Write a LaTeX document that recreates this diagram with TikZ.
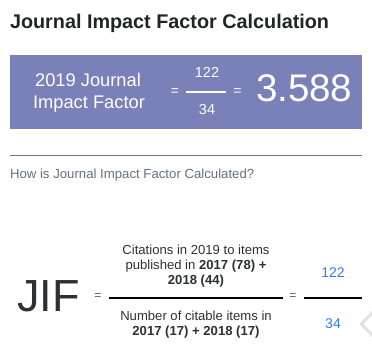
\documentclass[tikz,border=0pt]{standalone}
\usepackage{fontspec}
\setmainfont{Liberation Sans}
\definecolor{titlecol}{HTML}{222428}
\definecolor{boxcol}{HTML}{7A80B8}
\definecolor{rulecol}{HTML}{6C757D}
\definecolor{qcol}{HTML}{66707F}
\definecolor{darkcol}{HTML}{2E3033}
\definecolor{bluecol}{HTML}{2F7DE8}
\definecolor{chevcol}{HTML}{E2E2E4}
\newcommand{\fsz}[1]{\fontsize{#1}{#1}\selectfont}
\begin{document}
\begin{tikzpicture}[x=1pt,y=-1pt,
  every node/.style={inner sep=0pt, outer sep=0pt},
  boxtxt/.style={text=white, font=\fsz{18.3}, anchor=base},
  boxnum/.style={text=white, font=\fsz{14.5}, anchor=base},
  eqtxt/.style={text=darkcol, font=\fsz{13.1}, anchor=base},
  bluenum/.style={text=bluecol, font=\fsz{14}, anchor=base}]
\useasboundingbox (0,0) rectangle (372,363);
% title
\node[anchor=base west, font=\bfseries\fsz{19.8}, text=titlecol] (title) at (10,29) {Journal Impact Factor Calculation};
% purple box
\node[fill=boxcol, minimum width=352pt, minimum height=74pt, anchor=north west] (box) at (10,55) {};
\node[boxtxt] (l1) at (88,87) {2019 Journal};
\node[boxtxt] (l2) at (89,109) {Impact Factor};
\node[text=white, font=\fsz{14}] (eqa) at (175,92) {=};
\coordinate (fa1) at (186,92);
\coordinate (fa2) at (226,92);
\draw[white, line width=1.3pt] (fa1) -- (fa2);
\node[boxnum] (na) at (207,78) {122};
\node[boxnum] (da) at (207,115) {34};
\node[text=white, font=\fsz{14}] (eqb) at (237.5,92) {=};
\node[text=white, font=\fsz{38.5}, anchor=base west] (val) at (256,102) {3.588};
% rule and question
\coordinate (r1) at (10,156);
\coordinate (r2) at (362,156);
\draw[rulecol, line width=1pt] (r1) -- (r2);
\node[anchor=base west, text=qcol, font=\fsz{13.2}] (q) at (10,179) {How is Journal Impact Factor Calculated?};
% formula
\node[anchor=base west, text=darkcol, font=\fsz{45}] (jif) at (17,312) {JIF};
\node[text=darkcol!80, font=\fsz{12}] (eqc) at (98,297) {=};
\coordinate (fb1) at (109,298);
\coordinate (fb2) at (283,298);
\draw[black, line width=1.8pt] (fb1) -- (fb2);
\node[eqtxt] (n1) at (196,255) {Citations in 2019 to items};
\node[eqtxt] (n2) at (196,270) {published in \textbf{2017 (78) +}};
\node[eqtxt] (n3) at (196,285) {\textbf{2018 (44)}};
\node[eqtxt] (d1) at (196,320) {Number of citable items in};
\node[eqtxt] (d2) at (196,335) {\textbf{2017 (17) + 2018 (17)}};
\node[text=darkcol!80, font=\fsz{12}] (eqd) at (293,297) {=};
\coordinate (fc1) at (304,298);
\coordinate (fc2) at (362,298);
\draw[black, line width=2pt] (fc1) -- (fc2);
\node[bluenum] (nb) at (333,277) {122};
\node[bluenum] (db) at (333,328) {34};
% chevron
\coordinate (c1) at (373,312);
\coordinate (c2) at (361.5,324);
\coordinate (c3) at (373,336);
\begin{scope}
\clip (0,0) rectangle (372,363);
\draw[chevcol, line width=3pt] (c1) -- (c2) -- (c3);
\end{scope}
\end{tikzpicture}
\end{document}
